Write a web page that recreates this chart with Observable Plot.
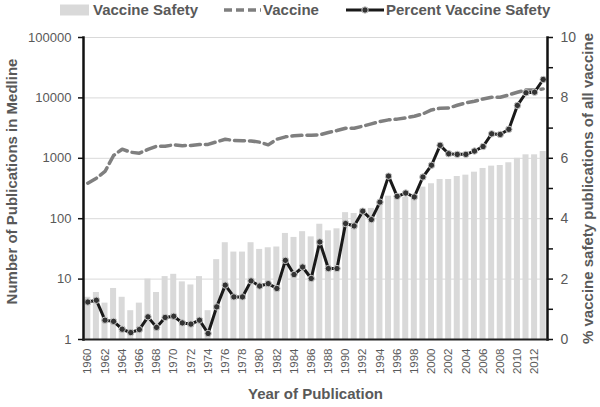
<!DOCTYPE html>
<html><head><meta charset="utf-8">
<script src="https://cdn.jsdelivr.net/npm/d3@7"></script>
<script src="https://cdn.jsdelivr.net/npm/@observablehq/plot@0.6"></script>
<style>
body{margin:0;background:#fff;}
#wrap{position:relative;width:600px;height:407px;font-family:"Liberation Sans",Arial,sans-serif;}
#legend{position:absolute;top:1px;left:60px;display:flex;align-items:center;font-weight:bold;font-size:15px;color:#595959;white-space:nowrap;line-height:18px;}
#legend svg{display:block;}
</style></head><body>
<div id="wrap">
<div id="legend">
  <svg width="29" height="12"><rect x="0" y="0.5" width="29" height="11" fill="#d9d9d9"/></svg>
  <span style="margin-left:4px">Vaccine Safety</span>
  <svg width="37" height="12" style="margin-left:26px"><line x1="0" y1="6" x2="37" y2="6" stroke="#7f7f7f" stroke-width="3.5" stroke-dasharray="8,4"/></svg>
  <span style="margin-left:2px">Vaccine</span>
  <svg width="38" height="12" style="margin-left:27px"><line x1="0" y1="6" x2="38" y2="6" stroke="#1a1a1a" stroke-width="3"/><circle cx="19" cy="6" r="3.2" fill="#333" stroke="#c8c8c8" stroke-width="1"/></svg>
  <span style="margin-left:2px">Percent Vaccine Safety</span>
</div>
</div>
<script>
const years = [1960,1961,1962,1963,1964,1965,1966,1967,1968,1969,1970,1971,1972,1973,1974,1975,1976,1977,1978,1979,1980,1981,1982,1983,1984,1985,1986,1987,1988,1989,1990,1991,1992,1993,1994,1995,1996,1997,1998,1999,2000,2001,2002,2003,2004,2005,2006,2007,2008,2009,2010,2011,2012,2013];
const yearTicks = [1960,1962,1964,1966,1968,1970,1972,1974,1976,1978,1980,1982,1984,1986,1988,1990,1992,1994,1996,1998,2000,2002,2004,2006,2008,2010,2012];
const safety = [5,6,4,7,5,3,4,10,6,11,12,9,8,11,3,21,40,28,28,40,31,33,34,57,49,61,50,81,63,68,126,122,144,148,188,236,219,227,230,333,379,446,446,500,526,589,679,742,760,843,1000,1142,1142,1295];
const vaccine = [387,469,605,1113,1414,1260,1214,1400,1585,1580,1671,1620,1630,1690,1700,1875,2070,1970,1950,1940,1850,1670,2070,2265,2370,2400,2400,2450,2670,2880,3140,3140,3400,3720,4060,4330,4450,4670,4970,5440,6320,6740,6800,7550,8270,8790,9620,10230,10230,11220,12380,13560,13560,14100];
const pct = [1.24,1.30,0.64,0.60,0.34,0.23,0.33,0.75,0.40,0.73,0.77,0.55,0.51,0.64,0.20,1.08,1.80,1.41,1.41,1.94,1.77,1.85,1.69,2.62,2.15,2.40,2.02,3.23,2.35,2.35,3.84,3.76,4.25,3.97,4.55,5.41,4.74,4.85,4.72,5.38,5.77,6.43,6.15,6.13,6.13,6.24,6.39,6.81,6.79,6.96,7.75,8.17,8.19,8.61];
const leftTicks = [1,10,100,1000,10000,100000];
const rightTicks = [0,1,2,3,4,5,6,7,8,9,10];
const leftLabel = "Number of Publications in Medline";
const rightLabel = "% vaccine safety publications of all vaccine";
const xLabel = "Year of Publication";

const data = years.map((year,i)=>({year, safety:safety[i], vaccine:vaccine[i], pct:pct[i]}));
// right axis (0–10 %) shares the log frame: 0..10 maps onto 1..100000
const pctToY = p => Math.pow(10, p/2);

const chart = Plot.plot({
  width:600, height:407,
  marginLeft:83, marginRight:53, marginTop:37, marginBottom:68,
  x:{type:"band", domain:years, paddingInner:0.3, paddingOuter:0.15},
  y:{type:"log", domain:[1,100000]},
  style:{fontFamily:"'Liberation Sans', Arial, sans-serif", color:"#595959", background:"transparent"},
  marks:[
    Plot.gridY(leftTicks, {stroke:"#d9d9d9", strokeOpacity:1, strokeWidth:1}),
    Plot.barY(data, {x:"year", y1:()=>1, y2:"safety", fill:"#d9d9d9"}),
    Plot.lineY(data, {x:"year", y:"vaccine", stroke:"#7f7f7f", strokeWidth:3.5, strokeDasharray:"10,5"}),
    Plot.lineY(data, {x:"year", y:d=>pctToY(d.pct), stroke:"#1a1a1a", strokeWidth:3}),
    Plot.dot(data, {x:"year", y:d=>pctToY(d.pct), r:3.2, fill:"#333", stroke:"#c8c8c8", strokeWidth:1}),
    Plot.axisY(leftTicks, {anchor:"left", tickFormat:d=>String(d), tickSize:5, tickPadding:7, fontSize:13, label:null, stroke:"#111", strokeWidth:1.5}),
    Plot.axisY(rightTicks.map(pctToY), {anchor:"right", tickFormat:d=>String(Math.round(2*Math.log10(d))), tickSize:5, tickPadding:8, fontSize:14, label:null, stroke:"#111", strokeWidth:1.5}),
    Plot.axisX(yearTicks, {anchor:"bottom", tickRotate:-90, tickSize:0, tickPadding:9, fontSize:11.5, tickFormat:d=>String(d), label:null}),
    Plot.frame({anchor:"left", stroke:"#111", strokeWidth:2.5}),
    Plot.frame({anchor:"right", stroke:"#111", strokeWidth:2.5}),
    Plot.frame({anchor:"bottom", stroke:"#222", strokeWidth:2}),
    Plot.text([leftLabel], {frameAnchor:"left", textAnchor:"middle", rotate:-90, dx:-71, dy:-7, fontSize:15, fontWeight:"bold", fill:"#595959"}),
    Plot.text([rightLabel], {frameAnchor:"right", textAnchor:"middle", rotate:-90, dx:41, dy:0, fontSize:15, fontWeight:"bold", fill:"#595959"}),
    Plot.text([xLabel], {frameAnchor:"bottom", dy:59, fontSize:15, fontWeight:"bold", fill:"#595959"})
  ]
});
document.getElementById("wrap").appendChild(chart);
</script>
</body></html>
